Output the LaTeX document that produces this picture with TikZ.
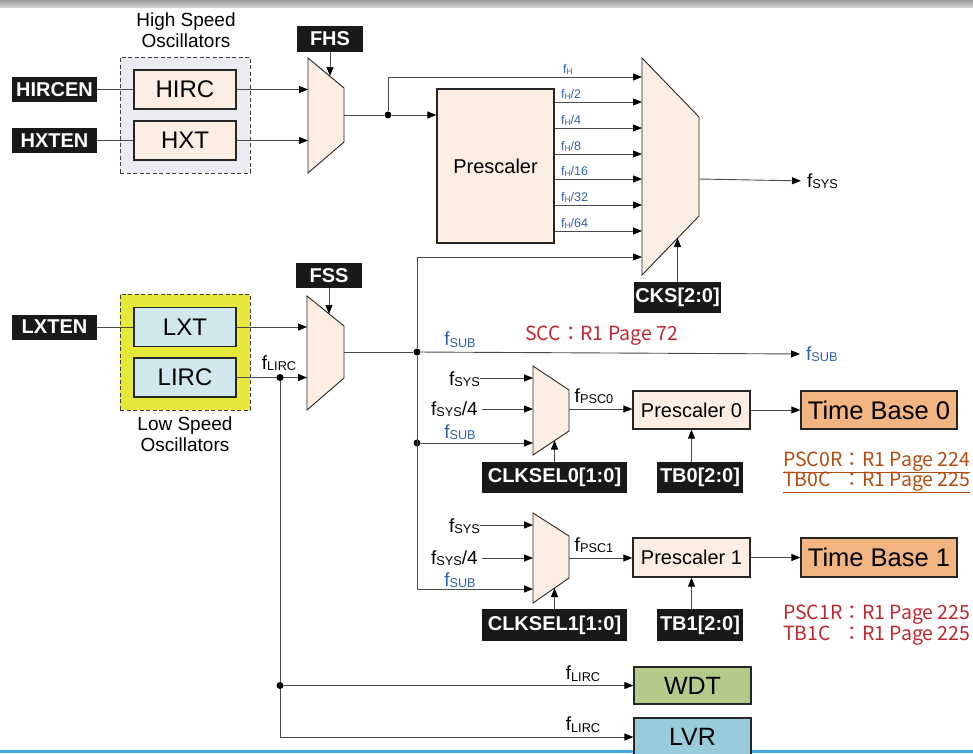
\documentclass[tikz,border=0pt]{standalone}
\usepackage{graphicx}
\usepackage{fontspec}
\setmainfont{Liberation Sans}
\newfontfamily\cjk{Noto Sans CJK TC}
\usetikzlibrary{arrows.meta,calc}
\definecolor{peach}{RGB}{252,238,226}
\definecolor{lav}{RGB}{236,235,242}
\definecolor{ylw}{RGB}{230,232,60}
\definecolor{lblue}{RGB}{210,232,239}
\definecolor{tbor}{RGB}{242,180,128}
\definecolor{wdtg}{RGB}{181,201,138}
\definecolor{lvrb}{RGB}{152,204,218}
\definecolor{fblue}{RGB}{46,98,170}
\definecolor{sccred}{RGB}{192,39,45}
\definecolor{refbrn}{RGB}{180,76,14}
\definecolor{wirec}{RGB}{75,75,75}
\definecolor{botline}{RGB}{62,170,224}
\newcommand\fsz[1]{\fontsize{#1}{#1}\selectfont}
\newcommand\fq[1]{f\raisebox{-0.08em}{\scalebox{0.67}{#1}}}
\newlength\pscw
\begin{document}
\begin{tikzpicture}[x=1pt,y=-1pt,
  box/.style={draw=black!85,line width=1.3pt,inner sep=0pt,anchor=center},
  blk/.style={fill=black!90,text=white,inner sep=0pt,font=\fsz{20}\bfseries},
  grp/.style={draw=black!75,dash pattern=on 4pt off 2.5pt,line width=0.8pt,inner sep=0pt},
  wire/.style={draw=wirec,line width=0.9pt},
  arr/.style={wire,-{Triangle[length=9pt,width=7pt,color=black]}},
  mux/.style={draw=black!85,line width=0.9pt,fill=peach},
  dot/.style={circle,fill=black,inner sep=0pt,minimum size=7pt},
  lbl/.style={inner sep=0pt,font=\fsz{19}},
  blbl/.style={lbl,text=fblue},
  slbl/.style={inner sep=0pt,font=\fsz{12.5},text=fblue,anchor=south west},
  red/.style={inner sep=0pt,font=\cjk\fsz{19.5},anchor=base west},
]
\useasboundingbox (0,0) rectangle (973,753);
\clip (0,0) rectangle (973,753);
\shade[top color=gray!80,bottom color=gray!35] (0,0) rectangle (973,7);
\draw[botline,line width=3pt] (0,751.5) -- (973,751.5);

% oscillator groups
\node[grp,fill=lav,minimum width=130pt,minimum height=116pt] (hsg) at (185,115) {};
\node[grp,fill=ylw,minimum width=130pt,minimum height=116pt] (lsg) at (185,352) {};
\node[lbl,align=center,font=\fontsize{19}{21}\selectfont] (hsl) at (186,30) {High Speed\\Oscillators};
\node[lbl,align=center,font=\fontsize{19}{21}\selectfont] (lsl) at (185,434) {Low Speed\\Oscillators};

% oscillator boxes
\node[box,fill=peach,minimum width=102pt,minimum height=39pt,font=\fsz{24}] (hirc) at (185,89.5) {HIRC};
\node[box,fill=peach,minimum width=102pt,minimum height=39pt,font=\fsz{24}] (hxt) at (185,140.5) {HXT};
\node[box,fill=lblue,minimum width=102pt,minimum height=39pt,font=\fsz{24}] (lxt) at (185,327) {LXT};
\node[box,fill=lblue,minimum width=102pt,minimum height=39pt,font=\fsz{24}] (lirc) at (185,377.5) {LIRC};

% black control boxes
\node[blk,minimum width=85pt,minimum height=25pt] (hircen) at (54.5,89.5) {HIRCEN};
\node[blk,minimum width=85pt,minimum height=25pt] (hxten) at (54.5,140.5) {HXTEN};
\node[blk,minimum width=85pt,minimum height=25pt] (lxten) at (54.5,327) {LXTEN};
\node[blk,minimum width=66pt,minimum height=26pt] (fhs) at (330,39) {FHS};
\node[blk,minimum width=66pt,minimum height=25pt] (fss) at (329,275.5) {FSS};
\node[blk,minimum width=87pt,minimum height=31pt] (cks) at (677.5,297.5) {CKS[2:0]};
\node[blk,minimum width=145pt,minimum height=31pt] (clk0) at (554.5,477.5) {CLKSEL0[1:0]};
\node[blk,minimum width=86pt,minimum height=31pt] (tb0c) at (700,477.5) {TB0[2:0]};
\node[blk,minimum width=145pt,minimum height=32pt] (clk1) at (554.5,625) {CLKSEL1[1:0]};
\node[blk,minimum width=86pt,minimum height=32pt] (tb1c) at (700,625) {TB1[2:0]};

% prescalers and targets
\node[box,fill=peach,minimum width=117pt,minimum height=154pt,font=\fsz{20}] (pre) at (495.5,166) {Prescaler};
\node[box,fill=peach,minimum width=117pt,minimum height=38pt,font=\fsz{20}] (pre0) at (691.5,410) {Prescaler 0};
\node[box,fill=peach,minimum width=117pt,minimum height=39pt,font=\fsz{20}] (pre1) at (691.5,557.5) {Prescaler 1};
\node[box,fill=tbor,minimum width=156pt,minimum height=38pt,font=\fsz{25.5}] (tb0) at (879,410) {Time Base 0};
\node[box,fill=tbor,minimum width=156pt,minimum height=39pt,font=\fsz{25.5}] (tb1) at (879,557.5) {Time Base 1};
\node[box,fill=wdtg,minimum width=117pt,minimum height=37pt,font=\fsz{25}] (wdt) at (692.5,685.5) {WDT};
\node[box,fill=lvrb,minimum width=117pt,minimum height=38pt,font=\fsz{25}] (lvr) at (692.5,737) {LVR};

% multiplexers
\draw[mux] (308,58) -- (344,88) -- (344,142) -- (308,173) -- cycle;
\coordinate (m1a) at (308,89.5); \coordinate (m1b) at (308,140.5);
\coordinate (m1o) at (344,115); \coordinate (m1s) at (330,76);
\draw[mux] (307,296) -- (344,326) -- (344,378) -- (307,410) -- cycle;
\coordinate (m2a) at (307,327); \coordinate (m2b) at (307,377.5);
\coordinate (m2o) at (344,352); \coordinate (m2s) at (329,314);
\draw[mux] (642,58) -- (699,117) -- (699,216) -- (642,275) -- cycle;
\foreach \n/\y in {1/77,2/102,3/128,4/154,5/179,6/205,7/231,8/257}
  \coordinate (m3i\n) at (642,\y);
\coordinate (m3o) at (699,179); \coordinate (m3s) at (677.5,238);
\draw[mux] (533,366) -- (569,390) -- (569,431) -- (533,455) -- cycle;
\coordinate (m4a) at (533,378); \coordinate (m4b) at (533,409); \coordinate (m4c) at (533,443);
\coordinate (m4o) at (569,409); \coordinate (m4s) at (554.5,440.5);
\draw[mux] (533,513) -- (569,536) -- (569,578) -- (533,603) -- cycle;
\coordinate (m5a) at (533,525); \coordinate (m5b) at (533,558); \coordinate (m5c) at (533,589);
\coordinate (m5o) at (569,558); \coordinate (m5s) at (554.5,588);

% high speed path
\draw[wire] (hircen.east) -- (hirc.west);
\draw[wire] (hxten.east) -- (hxt.west);
\draw[arr] (hirc.east) -- (m1a);
\draw[arr] (hxt.east) -- (m1b);
\draw[arr] (fhs.south) -- (m1s);
\node[dot] (d1) at (388,115) {};
\draw[wire] (m1o) -- (d1);
\draw[arr] (d1) -- (pre.west |- d1);
\draw[arr] (d1) |- (m3i1);
\foreach \n in {2,...,7} \draw[arr] (pre.east |- m3i\n) -- (m3i\n);
\node[slbl] (lh1) at (563,75) {\fq{H}};
\node[slbl] (lh2) at (561,100) {\fq{H}/2};
\node[slbl] (lh3) at (561,126) {\fq{H}/4};
\node[slbl] (lh4) at (561,152) {\fq{H}/8};
\node[slbl] (lh5) at (561,177) {\fq{H}/16};
\node[slbl] (lh6) at (561,203) {\fq{H}/32};
\node[slbl] (lh7) at (561,229) {\fq{H}/64};
\node[lbl,anchor=west] (fsysout) at (807,181) {\fq{SYS}};
\draw[arr,shorten >=6pt] (m3o) -- (fsysout.west);
\draw[arr] (cks.north) -- (m3s);

% low speed path
\draw[wire] (lxten.east) -- (lxt.west);
\draw[arr] (lxt.east) -- (m2a);
\draw[arr] (lirc.east) -- (m2b);
\draw[arr] (fss.south) -- (m2s);
\node[dot] (dl) at (280,377.5) {};
\node[lbl] (flirc0) at (279,363) {\fq{LIRC}};
\node[dot] (d2) at (417,352) {};
\node[dot] (d3) at (417,443) {};
\draw[wire] (m2o) -- (d2);
\node[blbl,anchor=west] (fsubout) at (806,354) {\fq{SUB}};
\draw[arr,shorten >=6pt] (d2) -- (fsubout.west);
\node[blbl] (fsubl) at (460,339.5) {\fq{SUB}};
\node[red,text=sccred] (scc) at (525,340) {SCC：R1 Page 72};
\draw[arr] (d2) |- (m3i8);
\draw[arr] (d2) |- (m5c);
\draw[arr] (d3) -- (m4c);

% time base 0
\node[lbl,anchor=east] (fs0) at (480,379) {\fq{SYS}};
\node[lbl,anchor=east] (fs0q) at (478,409) {\fq{SYS}/4};
\node[blbl] (fsub0) at (460,432) {\fq{SUB}};
\draw[arr] (fs0.east |- m4a) -- (m4a);
\draw[arr] (fs0q.east |- m4b) ++(4,0) -- (m4b);
\draw[arr] (m4o) -- (pre0.west |- m4o);
\node[lbl] (fpsc0) at (594,396) {\fq{PSC0}};
\draw[arr] (pre0.east) -- (tb0.west);
\draw[arr] (clk0.north) -- (m4s);
\draw[arr] (pre0.south |- tb0c.north) -- (pre0.south);
\node[red,text=refbrn] (r0a) at (783,466) {\underline{PSC0R：R1 Page 224}};
\node[red,text=refbrn] (r0b) at (783,486) {\settowidth\pscw{PSC0R}\underline{\makebox[\pscw][l]{TB0C}：R1 Page 225}};

% time base 1
\node[lbl,anchor=east] (fs1) at (480,526) {\fq{SYS}};
\node[lbl,anchor=east] (fs1q) at (478,558) {\fq{SYS}/4};
\node[blbl] (fsub1) at (460,580) {\fq{SUB}};
\draw[arr] (fs1.east |- m5a) -- (m5a);
\draw[arr] (fs1q.east |- m5b) ++(4,0) -- (m5b);
\draw[arr] (m5o) -- (pre1.west |- m5o);
\node[lbl] (fpsc1) at (594,545) {\fq{PSC1}};
\draw[arr] (pre1.east) -- (tb1.west);
\draw[arr] (clk1.north) -- (m5s);
\draw[arr] (pre1.south |- tb1c.north) -- (pre1.south);
\node[red,text=sccred] (r1a) at (783,619) {PSC1R：R1 Page 225};
\node[red,text=sccred] (r1b) at (783,640) {\settowidth\pscw{PSC1R}\makebox[\pscw][l]{TB1C}：R1 Page 225};

% LIRC distribution
\node[dot] (dw) at (280,685.5) {};
\draw[wire] (dl) -- (dw);
\draw[arr] (dw) -- (wdt.west);
\draw[arr] (dw) |- (lvr.west);
\node[lbl] (flirc1) at (583,673.5) {\fq{LIRC}};
\node[lbl] (flirc2) at (583,724.5) {\fq{LIRC}};
\end{tikzpicture}
\end{document}
